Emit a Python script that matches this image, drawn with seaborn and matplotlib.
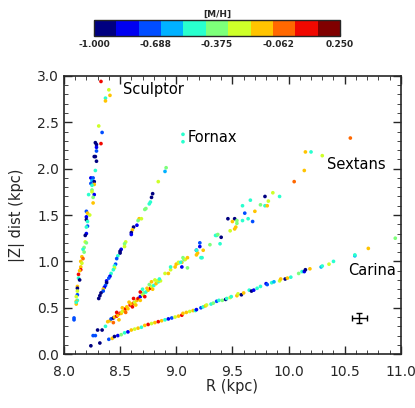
import matplotlib
matplotlib.use("Agg")
import matplotlib.pyplot as plt
import numpy as np
import pandas as pd
import seaborn as sns
from matplotlib.colors import ListedColormap, Normalize
from matplotlib.cm import ScalarMappable
from matplotlib.ticker import MultipleLocator

# [M/H] levels
NAVY, BLUE, MBLUE, LBLUE, CYAN, GREEN, YELLOW, ORANGE, ORRED, RED = (
    -0.94, -0.83, -0.72, -0.60, -0.49, -0.37, -0.26, -0.15, -0.03, 0.08)

sculptor_r = [8.33, 8.40, 8.41, 8.37, 8.37, 8.31, 8.34, 8.28, 8.29, 8.33, 8.29, 8.29, 8.27, 8.28,
              8.29, 8.28, 8.24, 8.26, 8.25, 8.27, 8.24, 8.27, 8.25, 8.25, 8.25, 8.22, 8.27, 8.26,
              8.26, 8.20, 8.21, 8.23, 8.20, 8.20, 8.21, 8.21, 8.20, 8.20, 8.19, 8.19, 8.20, 8.18,
              8.17, 8.18, 8.16, 8.17, 8.15, 8.16, 8.15, 8.15, 8.14, 8.13, 8.13, 8.14, 8.12, 8.12,
              8.12, 8.12, 8.11, 8.12, 8.11, 8.11, 8.11, 8.09, 8.09]
sculptor_z = [2.94, 2.85, 2.79, 2.76, 2.73, 2.46, 2.39, 2.28, 2.26, 2.27, 2.23, 2.19, 2.13, 2.13,
              2.08, 1.98, 1.90, 1.90, 1.87, 1.86, 1.84, 1.83, 1.82, 1.77, 1.75, 1.72, 1.72, 1.69,
              1.63, 1.54, 1.52, 1.50, 1.48, 1.45, 1.43, 1.38, 1.37, 1.30, 1.28, 1.21, 1.20, 1.15,
              1.13, 1.10, 1.05, 1.03, 1.00, 0.98, 0.94, 0.91, 0.90, 0.86, 0.82, 0.80, 0.73, 0.71,
              0.68, 0.64, 0.62, 0.58, 0.54, 0.57, 0.56, 0.39, 0.37]
sculptor_mh = [RED, YELLOW, ORANGE, CYAN, ORANGE, YELLOW, MBLUE, NAVY, NAVY, RED, BLUE, MBLUE, NAVY, NAVY,
               NAVY, CYAN, BLUE, MBLUE, LBLUE, NAVY, MBLUE, ORANGE, CYAN, GREEN, YELLOW, CYAN, BLUE, GREEN,
               ORANGE, MBLUE, ORANGE, YELLOW, BLUE, NAVY, CYAN, MBLUE, CYAN, BLUE, NAVY, YELLOW, GREEN, GREEN,
               CYAN, GREEN, ORANGE, ORRED, ORANGE, YELLOW, ORANGE, RED, ORANGE, RED, CYAN, NAVY, ORANGE, NAVY,
               YELLOW, MBLUE, YELLOW, CYAN, ORANGE, ORANGE, CYAN, MBLUE, MBLUE]

fornax_r = [9.06, 9.06,
            8.91, 8.90, 8.84, 8.79, 8.78, 8.77, 8.76, 8.73, 8.72, 8.67, 8.69, 8.66, 8.65, 8.62,
            8.61, 8.60, 8.60, 8.55, 8.54, 8.54, 8.51, 8.50, 8.50, 8.48, 8.47, 8.46, 8.45, 8.45,
            8.44, 8.42, 8.41, 8.40, 8.38, 8.38, 8.37, 8.36, 8.35, 8.35, 8.33, 8.32, 8.31]
fornax_z = [2.37, 2.29,
            2.01, 1.97, 1.86, 1.73, 1.69, 1.64, 1.62, 1.57, 1.56, 1.46, 1.46, 1.44, 1.39, 1.37,
            1.34, 1.31, 1.29, 1.21, 1.19, 1.16, 1.13, 1.11, 1.09, 1.06, 1.03, 0.97, 0.95, 0.93,
            0.91, 0.87, 0.84, 0.82, 0.79, 0.77, 0.74, 0.72, 0.70, 0.68, 0.66, 0.63, 0.60]
fornax_mh = [CYAN, CYAN,
             GREEN, LBLUE, YELLOW, NAVY, NAVY, CYAN, CYAN, GREEN, GREEN, ORANGE, YELLOW, GREEN, BLUE, NAVY,
             ORANGE, NAVY, BLUE, YELLOW, GREEN, YELLOW, BLUE, NAVY, NAVY, CYAN, MBLUE, MBLUE, CYAN, YELLOW,
             CYAN, CYAN, BLUE, MBLUE, BLUE, NAVY, MBLUE, BLUE, ORANGE, MBLUE, NAVY, NAVY, NAVY]

sextans_r = [8.26, 8.28, 8.30, 8.34, 8.37, 8.39, 8.41, 8.42, 8.44, 8.45, 8.47, 8.48, 8.50, 8.51,
             8.52, 8.54, 8.55, 8.57, 8.56, 8.59, 8.60, 8.62, 8.63, 8.61, 8.65, 8.66, 8.68, 8.70,
             8.71, 8.73, 8.75, 8.77, 8.78, 8.80, 8.82, 8.84, 8.86, 8.68, 8.74, 8.78, 8.83, 8.85,
             8.90, 8.93, 8.95, 8.99, 9.02, 9.05, 9.07, 9.10, 8.95, 9.00, 9.02, 9.04, 9.05, 9.06,
             9.08, 9.10, 9.18, 9.19, 9.23, 9.21, 9.21, 9.18, 9.24, 9.18, 9.22, 9.30, 9.36, 9.40,
             9.39, 9.35, 9.37, 9.48, 9.52, 9.53, 9.54, 9.46, 9.52, 9.50, 9.54, 9.59, 9.61, 9.64,
             9.68, 9.70, 9.59, 9.66, 9.75, 9.79, 9.81, 9.82, 9.79, 9.86, 9.92, 10.05, 10.14, 10.15,
             10.20, 10.30, 10.55,
             8.47, 8.52, 8.55, 8.58, 8.62, 8.64, 8.68, 8.70, 8.72, 8.76, 8.79, 8.81, 8.44, 8.49]
sextans_z = [0.20, 0.20, 0.26, 0.26, 0.30, 0.35, 0.36, 0.38, 0.39, 0.40, 0.41, 0.42, 0.44, 0.44,
             0.46, 0.47, 0.49, 0.49, 0.51, 0.53, 0.54, 0.55, 0.56, 0.51, 0.58, 0.60, 0.62, 0.64,
             0.66, 0.67, 0.69, 0.71, 0.73, 0.74, 0.76, 0.78, 0.79, 0.67, 0.71, 0.78, 0.79, 0.81,
             0.87, 0.87, 0.91, 0.94, 0.98, 0.99, 1.02, 0.93, 0.94, 0.97, 0.99, 0.99, 0.94, 1.04,
             1.02, 1.04, 1.12, 1.09, 1.04, 1.16, 1.20, 1.07, 1.12, 1.12, 1.04, 1.18, 1.28, 1.26,
             1.19, 1.28, 1.29, 1.33, 1.35, 1.37, 1.41, 1.46, 1.46, 1.43, 1.44, 1.44, 1.52, 1.46,
             1.43, 1.54, 1.60, 1.66, 1.61, 1.60, 1.60, 1.65, 1.70, 1.74, 1.70, 1.86, 1.98, 2.18,
             2.18, 2.14, 2.33,
             0.45, 0.50, 0.45, 0.56, 0.60, 0.53, 0.58, 0.70, 0.62, 0.75, 0.70, 0.80, 0.34, 0.37]
sextans_mh = [MBLUE, MBLUE, NAVY, NAVY, CYAN, ORANGE, ORANGE, MBLUE, NAVY, ORANGE, RED, ORANGE, RED, ORANGE,
              YELLOW, ORANGE, RED, ORANGE, ORANGE, RED, ORANGE, ORRED, YELLOW, RED, ORANGE, RED, BLUE, YELLOW,
              GREEN, CYAN, ORANGE, RED, YELLOW, CYAN, ORANGE, CYAN, YELLOW, RED, ORANGE, ORANGE, YELLOW, CYAN,
              YELLOW, ORANGE, YELLOW, ORANGE, YELLOW, ORANGE, CYAN, GREEN, CYAN, ORANGE, YELLOW, CYAN, BLUE, GREEN,
              YELLOW, ORANGE, BLUE, ORANGE, CYAN, BLUE, MBLUE, ORANGE, ORANGE, CYAN, CYAN, GREEN, CYAN, NAVY,
              CYAN, CYAN, GREEN, YELLOW, ORANGE, ORANGE, GREEN, NAVY, NAVY, ORANGE, GREEN, CYAN, MBLUE, CYAN,
              MBLUE, ORANGE, CYAN, CYAN, GREEN, CYAN, ORANGE, YELLOW, NAVY, YELLOW, CYAN, ORRED, ORANGE, ORANGE,
              CYAN, YELLOW, ORRED,
              RED, ORANGE, ORRED, ORANGE, RED, ORANGE, ORANGE, CYAN, RED, GREEN, ORANGE, YELLOW, ORRED, ORANGE]

carina_r = [8.24, 8.32, 8.40, 8.43, 8.45, 8.48, 8.51, 8.54, 8.57, 8.60, 8.63, 8.66, 8.69, 8.72,
            8.75, 8.78, 8.81, 8.84, 8.87, 8.90, 8.93, 8.96, 8.99, 9.02, 9.05, 9.06, 9.09, 9.12,
            9.15, 9.17, 9.18, 9.22, 9.24, 9.26, 9.27, 9.31, 9.33, 9.36, 9.38, 9.41, 9.44, 9.45,
            9.48, 9.49, 9.54, 9.55, 9.58, 9.60, 9.65, 9.67, 9.69, 9.72, 9.75, 9.80, 9.81, 9.85,
            9.87, 9.92, 9.93, 9.97, 9.99, 10.02, 10.09, 10.12, 10.14, 10.15, 10.19, 10.29, 10.30, 10.36,
            10.40, 10.59, 10.59, 10.71, 10.95]
carina_z = [0.09, 0.12, 0.16, 0.17, 0.19, 0.20, 0.21, 0.23, 0.24, 0.26, 0.27, 0.28, 0.29, 0.31,
            0.32, 0.33, 0.34, 0.35, 0.36, 0.37, 0.38, 0.39, 0.40, 0.41, 0.42, 0.44, 0.45, 0.46,
            0.47, 0.47, 0.48, 0.50, 0.51, 0.52, 0.53, 0.54, 0.55, 0.57, 0.58, 0.58, 0.59, 0.60,
            0.61, 0.62, 0.63, 0.65, 0.64, 0.66, 0.69, 0.68, 0.69, 0.71, 0.73, 0.76, 0.75, 0.77,
            0.78, 0.79, 0.81, 0.81, 0.82, 0.83, 0.87, 0.89, 0.89, 0.91, 0.92, 0.94, 0.95, 0.97,
            1.00, 1.06, 1.07, 1.14, 1.25]
carina_mh = [NAVY, NAVY, MBLUE, ORANGE, NAVY, BLUE, GREEN, CYAN, BLUE, ORANGE, YELLOW, ORANGE, CYAN, ORANGE,
             RED, YELLOW, ORANGE, RED, ORANGE, CYAN, BLUE, MBLUE, YELLOW, ORANGE, RED, ORANGE, ORANGE, YELLOW,
             ORANGE, CYAN, BLUE, MBLUE, CYAN, ORANGE, YELLOW, CYAN, GREEN, MBLUE, CYAN, GREEN, NAVY, CYAN,
             YELLOW, CYAN, ORANGE, YELLOW, NAVY, ORANGE, CYAN, NAVY, BLUE, CYAN, CYAN, BLUE, MBLUE, CYAN,
             LBLUE, YELLOW, ORANGE, NAVY, ORANGE, CYAN, GREEN, CYAN, BLUE, NAVY, ORANGE, LBLUE, CYAN, YELLOW,
             CYAN, LBLUE, CYAN, ORANGE, GREEN]

labels = ["Sculptor", "Fornax", "Sextans", "Carina"]
label_r = [8.53, 9.10, 10.34, 10.53]
label_z = [2.85, 2.34, 2.04, 0.90]

err_r, err_z, err_dr, err_dz = 10.63, 0.39, 0.068, 0.054

cbar_ticks = [-1.0, -0.6875, -0.375, -0.0625, 0.25]

df = pd.DataFrame({
    "R": sculptor_r + fornax_r + sextans_r + carina_r,
    "Z": sculptor_z + fornax_z + sextans_z + carina_z,
    "MH": sculptor_mh + fornax_mh + sextans_mh + carina_mh,
})

sns.set_style("ticks")
plt.rcParams["font.family"] = ["DejaVu Sans"]
plt.rcParams.update({
    "xtick.direction": "in", "ytick.direction": "in",
    "xtick.top": True, "ytick.right": True,
    "xtick.major.size": 6, "ytick.major.size": 6,
    "xtick.minor.size": 3, "ytick.minor.size": 3,
    "xtick.major.width": 1.0, "ytick.major.width": 1.0,
    "axes.linewidth": 1.2,
})

cmap = ListedColormap(plt.get_cmap("jet")(np.linspace(0, 1, 11)))

fig = plt.figure(figsize=(4.15, 4.08), dpi=100)
ax = fig.add_axes([0.154, 0.132, 0.812, 0.682])

sns.scatterplot(data=df, x="R", y="Z", hue="MH", palette=cmap, hue_norm=(-1.0, 0.25),
                s=7, linewidth=0, marker="o", legend=False, ax=ax)

ax.errorbar(err_r, err_z, xerr=err_dr, yerr=err_dz, color="black", lw=1.0, capsize=2)

for txt, x, y in zip(labels, label_r, label_z):
    ax.text(x, y, txt, fontsize=10.5, va="center", ha="left", color="black")

ax.set_xlim(8.0, 11.0)
ax.set_ylim(0.0, 3.0)
ax.xaxis.set_major_locator(MultipleLocator(0.5))
ax.xaxis.set_minor_locator(MultipleLocator(0.1))
ax.yaxis.set_major_locator(MultipleLocator(0.5))
ax.yaxis.set_minor_locator(MultipleLocator(0.1))
ax.tick_params(which="both", top=True, right=True, labelsize=10)
ax.tick_params(axis="x", pad=8)
ax.set_xlabel("R (kpc)", fontsize=10.5, labelpad=0)
ax.set_ylabel("|Z| dist (kpc)", fontsize=10.5, labelpad=9)
ax.xaxis.set_major_formatter(plt.FormatStrFormatter("%.1f"))
ax.yaxis.set_major_formatter(plt.FormatStrFormatter("%.1f"))

cax = fig.add_axes([0.2265, 0.912, 0.593, 0.039])
sm = ScalarMappable(norm=Normalize(-1.0, 0.25), cmap=cmap)
cb = fig.colorbar(sm, cax=cax, orientation="horizontal", ticks=cbar_ticks)
cb.ax.set_xticklabels([f"{t:.3f}" for t in cbar_ticks], fontsize=6.5, fontweight="bold")
cb.ax.tick_params(direction="in", length=2, width=0.8, pad=3)
cb.outline.set_linewidth(1.0)
cb.ax.set_title("[M/H]", fontsize=6.5, fontweight="bold", pad=2)

fig.savefig("out.png", dpi=100)
